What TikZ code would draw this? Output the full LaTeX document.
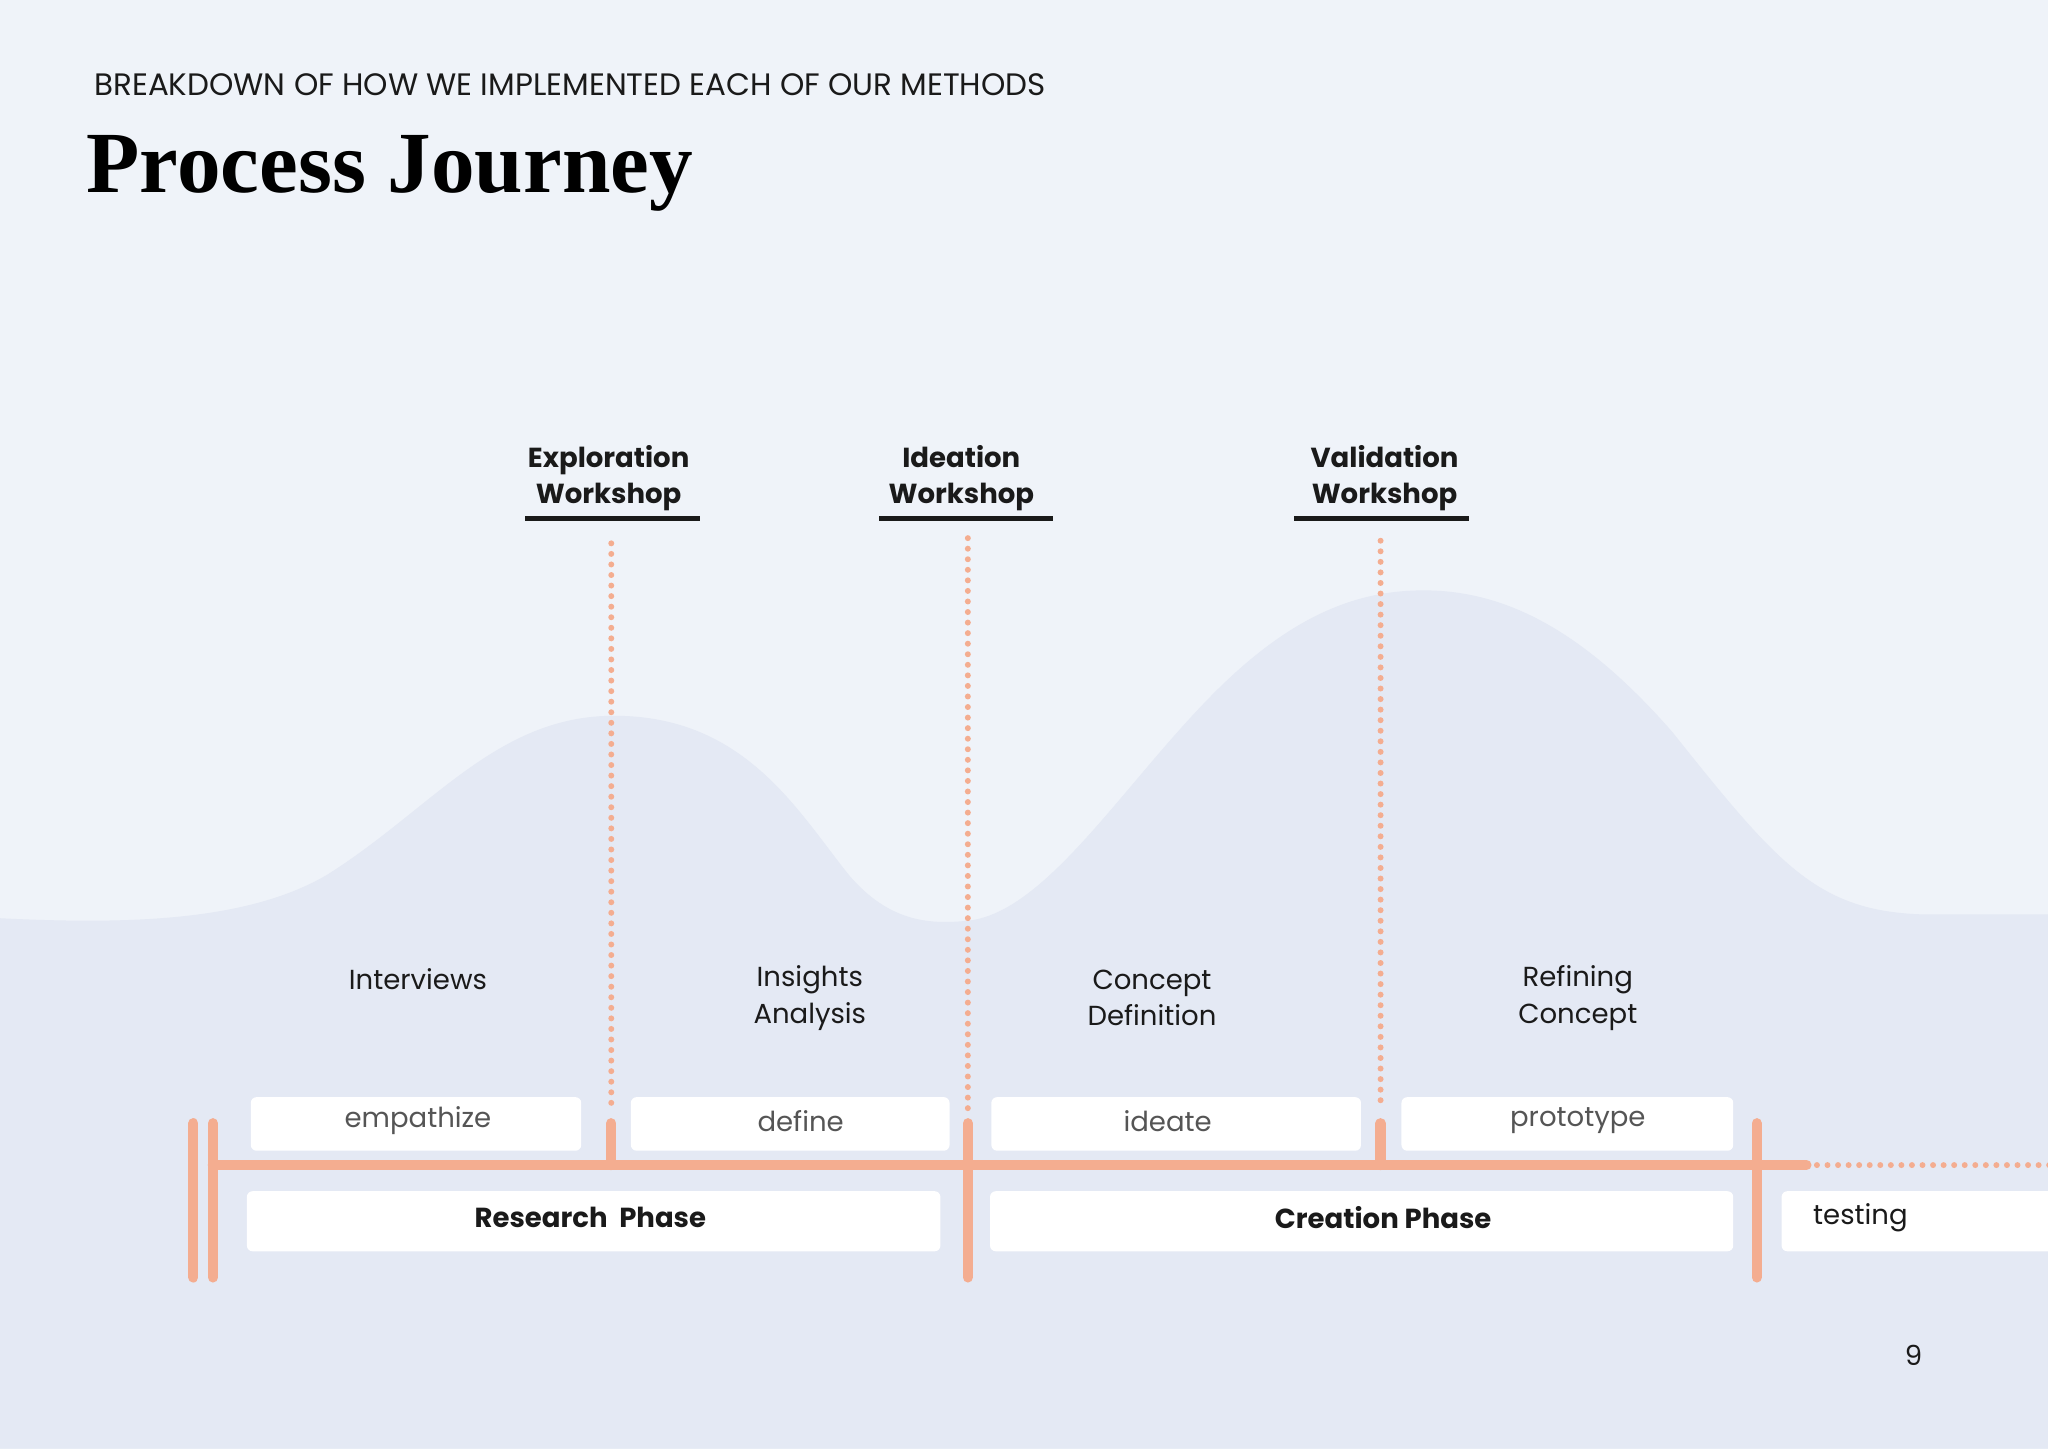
\documentclass[tikz,border=0pt]{standalone}
\usepackage{fontspec}
\setmainfont{Poppins}
\newfontfamily\titlefont{Liberation Serif}
\usetikzlibrary{calc}
\definecolor{bgc}{HTML}{EFF3F9}
\definecolor{hillc}{HTML}{E4E9F4}
\definecolor{orng}{HTML}{F4AD90}
\definecolor{txtc}{HTML}{1A1A1A}
\definecolor{grayt}{HTML}{555555}
\tikzset{
  bar/.style={draw=orng,line width=4.5pt,line cap=round},
  dotline/.style={draw=orng,line width=2.6pt,line cap=round,dash pattern=on 0pt off 4.6pt},
  wbox/.style={fill=white,rounded corners=2.5pt,draw=none},
  lbl/.style={font=\fontsize{12}{16}\selectfont,text=txtc,align=center},
  boxt/.style={font=\fontsize{12}{16}\selectfont,text=grayt},
  wk/.style={font=\bfseries\fontsize{12}{16}\selectfont,text=txtc,align=center},
  ph/.style={font=\bfseries\fontsize{12}{16}\selectfont,text=txtc},
  uline/.style={draw=txtc,line width=1.8pt}
}
\begin{document}
\begin{tikzpicture}[x=0.02cm,y=-0.02cm]
\useasboundingbox (0,0) rectangle (1568,1109);
\clip (0,0) rectangle (1568,1109);
\fill[bgc] (0,0) rectangle (1568,1109);
\fill[hillc] (0,703) .. controls (100,708) and (190,705) .. (250,670)
  .. controls (330,620) and (380,548) .. (470,548)
  .. controls (570,548) and (610,620) .. (650,670)
  .. controls (680,705) and (710,708) .. (740,705)
  .. controls (800,700) and (860,600) .. (930,530)
  .. controls (990,470) and (1040,452) .. (1090,452)
  .. controls (1150,452) and (1210,480) .. (1280,560)
  .. controls (1360,660) and (1390,697) .. (1470,700)
  -- (1568,700) -- (1568,1109) -- (0,1109) -- cycle;
% headings
\node[anchor=west,font=\fontsize{13.5}{16}\selectfont,text=txtc] (sub) at (66,65) {BREAKDOWN OF HOW WE IMPLEMENTED EACH OF OUR METHODS};
\node[anchor=west,font=\titlefont\bfseries\fontsize{38}{44}\selectfont,text=black,inner sep=0pt] (ttl) at (66,133) {Process Journey};
% workshop labels
\node[wk] (w1) at (466,366) {Exploration\\Workshop};
\node[wk] (w2) at (736,366) {Ideation\\Workshop};
\node[wk] (w3) at (1060,366) {Validation\\Workshop};
\draw[uline] (402,397) -- (536,397);
\draw[uline] (673,397) -- (806,397);
\draw[uline] (991,397) -- (1125,397);
% boxes
\fill[wbox] (192,840) rectangle (445,881);
\fill[wbox] (483,840) rectangle (727,881);
\fill[wbox] (759,840) rectangle (1042,881);
\fill[wbox] (1073,840) rectangle (1327,881);
\fill[wbox] (189,912) rectangle (720,958);
\fill[wbox] (758,912) rectangle (1327,958);
\fill[wbox] (1364,912) rectangle (1600,958);
\node[boxt] (b1) at (320,858) {empathize};
\node[boxt] (b2) at (613,858) {define};
\node[boxt] (b3) at (894,858) {ideate};
\node[boxt] (b4) at (1208,858) {prototype};
\node[ph] (p1) at (452,932) {Research\ \ Phase};
\node[ph] (p2) at (1059,932) {Creation Phase};
\node[boxt,anchor=west,text=txtc] (p3) at (1382,932) {testing};
% labels
\node[lbl] (l1) at (320,750) {Interviews};
\node[lbl] (l2) at (620,764) {Insights\\Analysis};
\node[lbl] (l3) at (882,764) {Concept\\Definition};
\node[lbl] (l4) at (1208,764) {Refining\\Concept};
% dotted verticals
\coordinate (d1t) at (468,416); \coordinate (d1b) at (468,850);
\coordinate (d2t) at (741,412); \coordinate (d2b) at (741,850);
\coordinate (d3t) at (1057,414); \coordinate (d3b) at (1057,850);
\draw[dotline] (d1t) -- (d1b);
\draw[dotline] (d2t) -- (d2b);
\draw[dotline] (d3t) -- (d3b);
% timeline
\coordinate (ts) at (163,892); \coordinate (te) at (1383,892); \coordinate (tf) at (1575,892);
\draw[dotline] (te) -- (tf);
\draw[bar] (ts) -- (te);
\draw[bar] (148,860) -- (148,978);
\draw[bar] (163,860) -- (163,978);
\draw[bar] (741,860) -- (741,978);
\draw[bar] (1345,860) -- (1345,978);
\draw[bar] (468,860) -- (468,892);
\draw[bar] (1057,860) -- (1057,892);
\node[font=\fontsize{12}{16}\selectfont,text=txtc] (pg) at (1465,1038) {9};
\end{tikzpicture}
\end{document}
